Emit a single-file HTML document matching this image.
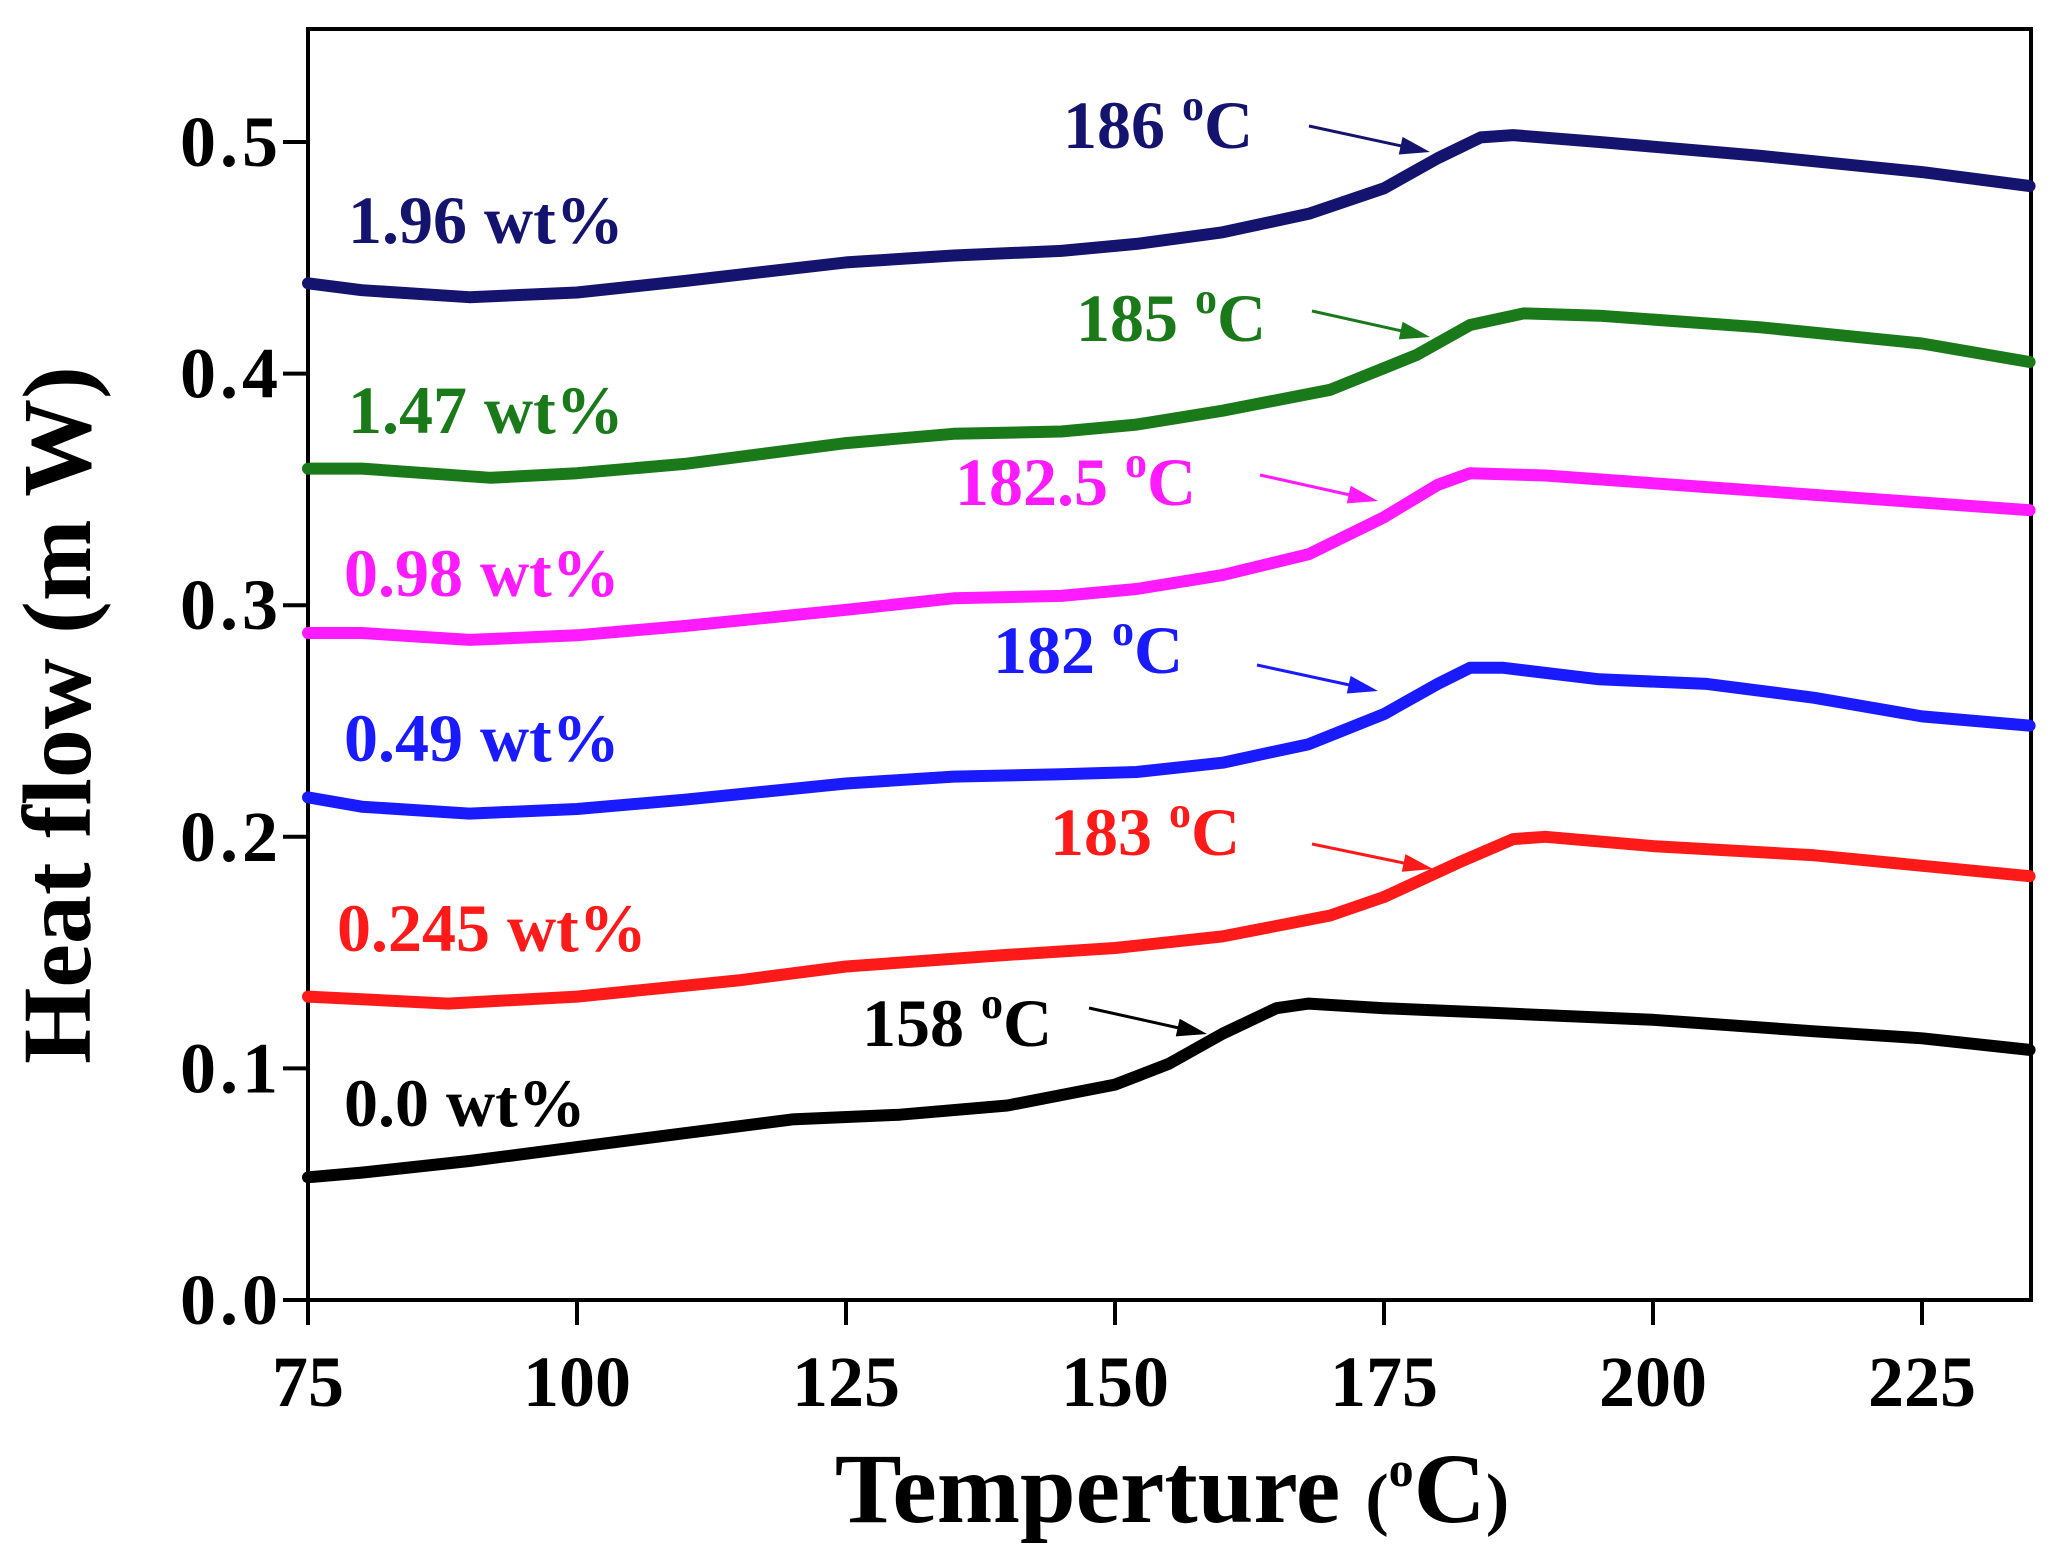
<!DOCTYPE html>
<html><head><meta charset="utf-8"><style>
html,body{margin:0;padding:0;background:#fff;}
svg text{font-family:"Liberation Serif",serif;font-weight:bold;}
</style></head><body>
<svg id="chart" width="2051" height="1563" viewBox="0 0 2051 1563" xmlns="http://www.w3.org/2000/svg">
<g id="plot"></g>
</svg>
<script>
const xTicks=[75,100,125,150,175,200,225];
const yTicks=[0.0,0.1,0.2,0.3,0.4,0.5];
const seriesNames=["0.0 wt%","0.245 wt%","0.49 wt%","0.98 wt%","1.47 wt%","1.96 wt%"];
const seriesColors=["#000000","#ff1a1a","#1a1aff","#ff1aff","#1a7a1a","#14146e"];
const xBlack=[75,80,90,100,110,120,130,140,150,155,160,165,168,175,185,200,215,225,235];
const yBlack=[0.053,0.055,0.060,0.066,0.072,0.078,0.080,0.084,0.093,0.102,0.115,0.126,0.128,0.126,0.124,0.121,0.116,0.113,0.108];
const xRed=[75,88,100,115,125,140,150,160,170,175,182,187,190,200,215,235];
const yRed=[0.131,0.128,0.131,0.138,0.144,0.149,0.152,0.157,0.166,0.174,0.189,0.199,0.200,0.196,0.192,0.183];
const xBlue=[75,80,90,100,110,125,135,145,152,160,168,175,180,183,186,195,205,215,225,235];
const yBlue=[0.217,0.213,0.210,0.212,0.216,0.223,0.226,0.227,0.228,0.232,0.240,0.253,0.266,0.273,0.273,0.268,0.266,0.260,0.252,0.248];
const xMag=[75,80,90,100,110,125,135,145,152,160,168,175,180,183,190,205,220,235];
const yMag=[0.288,0.288,0.285,0.287,0.291,0.298,0.303,0.304,0.307,0.313,0.322,0.338,0.352,0.357,0.356,0.351,0.346,0.341];
const xGreen=[75,80,92,100,110,125,135,145,152,160,170,178,183,188,195,210,225,235];
const yGreen=[0.359,0.359,0.355,0.357,0.361,0.370,0.374,0.375,0.378,0.384,0.393,0.408,0.421,0.426,0.425,0.420,0.413,0.405];
const xNavy=[75,80,90,100,110,125,135,145,152,160,168,175,180,184,187,195,210,225,235];
const yNavy=[0.439,0.436,0.433,0.435,0.440,0.448,0.451,0.453,0.456,0.461,0.469,0.480,0.493,0.502,0.503,0.500,0.494,0.487,0.481];
const tgLabels=["158","183","182","182.5","185","186"];

const NS="http://www.w3.org/2000/svg";
const L=308,R=2031,T=29,B=1300;
const xMin=75,xMax=235,yMin=0,yMax=0.55;
function sx(v){return L+(v-xMin)/(25)*269;}
function sy(v){return B-(v-yMin)/0.1*231.6;}
const g=document.getElementById('plot');
function mk(tag,attrs,parent){const e=document.createElementNS(NS,tag);for(const k in attrs)e.setAttribute(k,attrs[k]);(parent||g).appendChild(e);return e;}

const frame=mk('rect',{x:L,y:T,width:R-L,height:B-T,fill:'none',stroke:'#000','stroke-width':4});



xTicks.forEach(t=>{
  const ln=mk('line',{x1:sx(t),x2:sx(t),y1:B,y2:B+25,stroke:'#000','stroke-width':4});
  
  
  const tx=mk('text',{x:sx(t),y:1406,'font-size':72,'text-anchor':'middle',fill:'#000'});
  tx.textContent=t;
  
  
});
yTicks.forEach(t=>{
  const ln=mk('line',{x1:L-25,x2:L,y1:sy(t),y2:sy(t),stroke:'#000','stroke-width':4});
  
  
  const tx=mk('text',{x:282,y:sy(t)+24,'font-size':72,'text-anchor':'end',fill:'#000','letter-spacing':4});
  tx.textContent=t.toFixed(1);
  
  
});

const xs=[xBlack,xRed,xBlue,xMag,xGreen,xNavy];
const ys=[yBlack,yRed,yBlue,yMag,yGreen,yNavy];
xs.forEach((xa,i)=>{
  const d=xa.map((x,j)=>(j?'L':'M')+sx(x).toFixed(1)+','+sy(ys[i][j]).toFixed(1)).join(' ');
  const p=mk('path',{d:d,fill:'none',stroke:seriesColors[i],'stroke-width':12,'stroke-linejoin':'round','stroke-linecap':'round'});
  
  
});

const nameLabelPos=[[344,1126],[337,951],[344,761],[344,596],[348,433],[348,243]];
seriesNames.forEach((n,i)=>{
  const t=mk('text',{x:nameLabelPos[i][0],y:nameLabelPos[i][1],'font-size':68,fill:seriesColors[i]});
  t.textContent=n;
  
  
});

const tgPos=[[1063,148],[1076,341],[955,505],[993,673],[1050,855],[862,1046]].reverse();
const arrows=[[1089,1008,1207,1034],[1312,844,1433,869],[1257,665,1378,691],[1260,475,1378,501],[1312,311,1430,337],[1309,126,1430,152]];
tgLabels.forEach((n,i)=>{
  const t=mk('text',{x:tgPos[i][0],y:tgPos[i][1],'font-size':68,fill:seriesColors[i]});
  
  
  const a=document.createElementNS(NS,'tspan');a.textContent=n+' ';t.appendChild(a);
  const b=document.createElementNS(NS,'tspan');b.textContent='o';b.setAttribute('font-size','44');b.setAttribute('dy','-28');t.appendChild(b);
  const c=document.createElementNS(NS,'tspan');c.textContent='C';c.setAttribute('dy','28');t.appendChild(c);
  const [x1,y1,x2,y2]=arrows[i];
  const ln=mk('line',{x1:x1,y1:y1,x2:x2-10,y2:y2-2,stroke:seriesColors[i],'stroke-width':3});
  
  
  const ang=Math.atan2(y2-y1,x2-x1);
  const p1=[x2-30*Math.cos(ang)+9*Math.sin(ang),y2-30*Math.sin(ang)-9*Math.cos(ang)];
  const p2=[x2-30*Math.cos(ang)-9*Math.sin(ang),y2-30*Math.sin(ang)+9*Math.cos(ang)];
  const hd=mk('polygon',{points:`${x2},${y2} ${p1[0]},${p1[1]} ${p2[0]},${p2[1]}`,fill:seriesColors[i]});
  
  
});

const xt=mk('text',{x:1172,y:1522,'font-size':100,'text-anchor':'middle',fill:'#000'});


xt.innerHTML='Temperture <tspan font-size="70">(</tspan><tspan font-size="50" dy="-36">o</tspan><tspan dy="36">C</tspan><tspan font-size="70">)</tspan>';
const yt=mk('text',{x:0,y:0,'font-size':98,'text-anchor':'middle',fill:'#000',transform:'translate(90,715) rotate(-90)'});


yt.textContent='Heat flow (m W)';
</script>
</body></html>
